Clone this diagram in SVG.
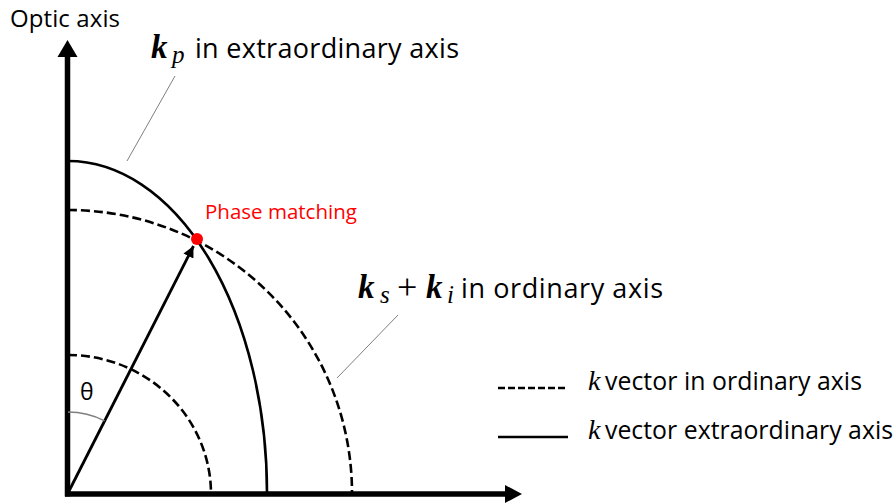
<svg xmlns="http://www.w3.org/2000/svg" width="895" height="503" viewBox="0 0 895 503">
<style>
.sans{font-family:"Open Sans","Noto Sans","DejaVu Sans",sans-serif;fill:#000}
.math{font-family:"Liberation Serif","DejaVu Serif",serif;fill:#000}
.kb{font-weight:bold;font-style:italic;font-size:33px}
.sub{font-style:italic;font-size:25px}
.curve{fill:none;stroke:#000;stroke-width:2.6}
.dash{stroke-dasharray:9 4}
.leader{fill:none;stroke:#7f7f7f;stroke-width:1}
.axis{stroke:#000;stroke-width:5.5;fill:none}
</style>
<defs>
<marker id="ah" viewBox="0 0 10 10" refX="10" refY="5" markerWidth="4.2" markerHeight="4" orient="auto" markerUnits="strokeWidth">
<path d="M0,0 L10,5 L0,10 Z" fill="#000"/>
</marker>
</defs>
<rect width="895" height="503" fill="#fff"/>
<g id="axes">
<line class="axis" x1="67.5" y1="496.5" x2="67.5" y2="55"/>
<polygon points="67.5,40 57.5,57 77.5,57" fill="#000"/>
<line class="axis" x1="65" y1="494" x2="507" y2="494"/>
<polygon points="522,494 505,485 505,503" fill="#000"/>
<text class="sans" x="10" y="27" font-size="24" textLength="110">Optic axis</text>
</g>
<g id="curves">
<path id="small-ord" class="curve dash" d="M68,355 A143,139 0 0 1 211,493"/>
<path id="large-ord" class="curve dash" d="M68,210 A284,283 0 0 1 352,493"/>
<path id="extra" class="curve" d="M68,161 A199,332 0 0 1 267,493"/>
</g>
<g id="connectors">
<line x1="68" y1="493" x2="193.5" y2="246" stroke="#000" stroke-width="2.8" marker-end="url(#ah)"/>
<path class="leader" d="M175,76 L127,161"/>
<path class="leader" d="M398,315 L337,378"/>
<path d="M68,412 A81,81 0 0 1 104.6,420.8" fill="none" stroke="#7f7f7f" stroke-width="1.5"/>
</g>
<g id="phase-point">
<circle cx="197" cy="239" r="6" fill="#ff0000"/>
<text x="205" y="219" font-size="20.5" font-family="Open Sans, Noto Sans, sans-serif" fill="#ff0000">Phase matching</text>
</g>
<g id="label-kp">
<text class="math kb" x="151" y="58">k</text>
<text class="math sub" x="172" y="63">p</text>
<text class="sans" x="195" y="58" font-size="27" textLength="264">in extraordinary axis</text>
</g>
<g id="label-kski">
<text class="math kb" x="358" y="298">k</text>
<text class="math sub" x="380" y="303">s</text>
<text class="math" x="397" y="299" font-size="36">+</text>
<text class="math kb" x="426" y="298">k</text>
<text class="math sub" x="447" y="303">i</text>
<text class="sans" x="461" y="298" font-size="27" textLength="202">in ordinary axis</text>
</g>
<text id="theta" class="sans" x="80" y="400" font-size="23">θ</text>
<g id="legend">
<line x1="498" y1="388" x2="568" y2="388" stroke="#000" stroke-width="2.6" stroke-dasharray="7 3"/>
<text class="math" x="588" y="390" font-size="28" font-style="italic">k</text>
<text class="sans" x="605" y="390" font-size="24.8" textLength="257">vector in ordinary axis</text>
<line x1="498" y1="437" x2="568" y2="437" stroke="#000" stroke-width="2.6"/>
<text class="math" x="588" y="439" font-size="28" font-style="italic">k</text>
<text class="sans" x="605" y="439" font-size="24.8" textLength="288">vector extraordinary axis</text>
</g>
</svg>
